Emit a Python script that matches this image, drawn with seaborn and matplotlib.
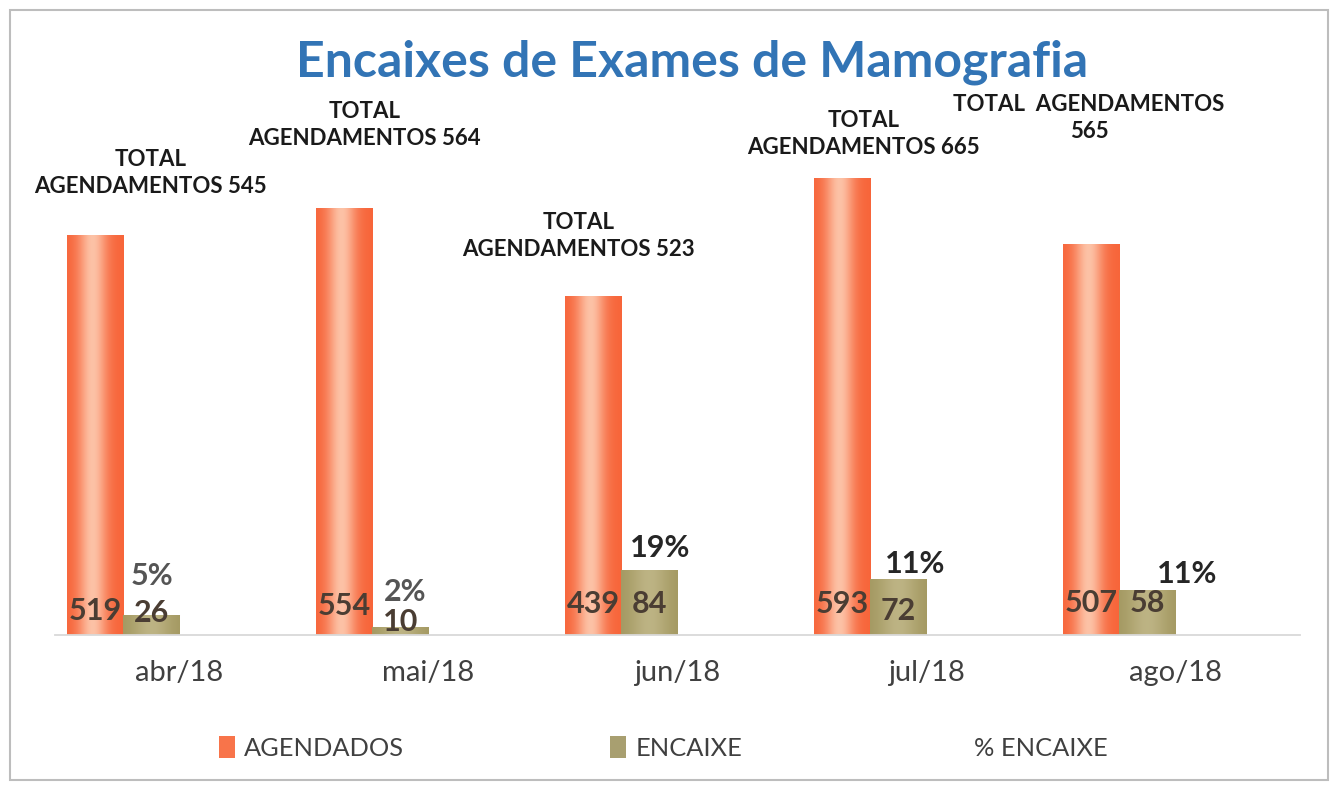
import numpy as np
import pandas as pd
import matplotlib
matplotlib.use("Agg")
import matplotlib.pyplot as plt
import seaborn as sns
from matplotlib.patches import Patch, Rectangle
from matplotlib.colors import LinearSegmentedColormap

# data
months = ["abr/18", "mai/18", "jun/18", "jul/18", "ago/18"]
agendados = [519, 554, 439, 593, 507]
encaixe = [26, 10, 84, 72, 58]
pct_encaixe = [5, 2, 19, 11, 11]
total_agendamentos = [545, 564, 523, 665, 565]

series = ["AGENDADOS", "ENCAIXE", "% ENCAIXE", "TOTAL"]
df = pd.DataFrame({
    "mes": months * 4,
    "serie": np.repeat(series, len(months)),
    "valor": agendados + encaixe + [p / 100 for p in pct_encaixe] + total_agendamentos,
})

sns.set_theme(style="white")
plt.rcParams["font.family"] = ["Lato", "DejaVu Sans"]

W, H = 1334, 785
fig = plt.figure(figsize=(W / 100, H / 100), dpi=100)
ax = fig.add_axes([55 / W, 150 / H, 1245 / W, 587 / H])

pal = {"AGENDADOS": "#F8703F", "ENCAIXE": "#A89E6C", "% ENCAIXE": "white", "TOTAL": "white"}
sns.barplot(data=df, x="mes", y="valor", hue="serie", hue_order=series, order=months,
            palette=pal, width=0.9, errorbar=None, saturation=1, legend=False, ax=ax)

# hide the helper series (they only reserve their slots, as in the original)
for c in ax.containers[2:]:
    for b in c:
        b.set_visible(False)

# cylinder-like shading
orange_cm = LinearSegmentedColormap.from_list("o", ["#F7653A", "#FDC2A6"])
olive_cm = LinearSegmentedColormap.from_list("g", ["#A2975F", "#CFC69C"])
t = np.linspace(0, 1, 64)
prof = np.exp(-((t - 0.45) / 0.25) ** 2)[None, :]
prof2 = 0.6 * np.exp(-((t - 0.5) / 0.35) ** 2)[None, :]
for cont, cm, pr in [(ax.containers[0], orange_cm, prof), (ax.containers[1], olive_cm, prof2)]:
    for b in cont:
        x0, w, h = b.get_x(), b.get_width(), b.get_height()
        im = ax.imshow(pr, cmap=cm, vmin=0, vmax=1, aspect="auto",
                       extent=[x0, x0 + w, 0, h], zorder=2.5, interpolation="bicubic")
        im.set_clip_path(b)

# value labels at the base of the bars
ag_label_y = [19, 26, 28, 28, 30]
enc_label_y = [17, 5, 28, 19, 30]
for cont, vals, ys in [(ax.containers[0], agendados, ag_label_y),
                       (ax.containers[1], encaixe, enc_label_y)]:
    for b, v, y in zip(cont, vals, ys):
        ax.text(b.get_x() + b.get_width() / 2, y, str(v), ha="center", va="baseline",
                fontsize=22, fontweight="bold", color="#4A3D33", zorder=5)

# percentage labels above the ENCAIXE bars
pct_dx = [0.0, 0.018, 0.042, 0.066, 0.159]
pct_dy = [39, 34, 17, 8, 9]
pct_col = ["#555555", "#555555", "#262626", "#262626", "#262626"]
for i, b in enumerate(ax.containers[1]):
    ax.text(b.get_x() + b.get_width() / 2 + pct_dx[i], encaixe[i] + pct_dy[i],
            f"{pct_encaixe[i]}%", ha="center", va="baseline",
            fontsize=22, fontweight="bold", color=pct_col[i], zorder=5)

# total labels above the AGENDADOS bars
tot_dx = [0.22, 0.08, -0.06, 0.085, -0.01]
tot_dy = [49, 76, 47, 26, 132]
for i, b in enumerate(ax.containers[0]):
    if i == len(months) - 1:
        txt = f"TOTAL  AGENDAMENTOS\n{total_agendamentos[i]}"
    else:
        txt = f"TOTAL\nAGENDAMENTOS {total_agendamentos[i]}"
    ax.text(b.get_x() + b.get_width() / 2 + tot_dx[i], agendados[i] + tot_dy[i], txt,
            ha="center", va="bottom", multialignment="center", linespacing=1.35,
            fontsize=16, fontweight="bold", color="#1a1a1a", zorder=5)

ax.set_xlim(-0.5, 4.5)
ax.set_ylim(0, 761)
ax.set_xlabel("")
ax.set_ylabel("")
ax.set_yticks([])
ax.tick_params(axis="x", length=0, pad=18, labelsize=21, labelcolor="#404040")
for s in ["top", "left", "right"]:
    ax.spines[s].set_visible(False)
ax.spines["bottom"].set_color("#D9D9D9")
ax.spines["bottom"].set_linewidth(1.3)
ax.set_facecolor("none")

fig.text(692 / W, 1 - 62 / H, "Encaixes de Exames de Mamografia", ha="center", va="center",
         fontsize=36, fontweight="bold", color="#3274B5")

handles = [Patch(facecolor="#F8744A", edgecolor="none"),
           Patch(facecolor="#A89F70", edgecolor="none"),
           Patch(facecolor="none", edgecolor="none")]
fig.legend(handles, ["AGENDADOS", "ENCAIXE", "% ENCAIXE"], loc="center",
           bbox_to_anchor=(0.497, 37 / H), ncol=3, frameon=False, fontsize=18.3,
           handlelength=0.65, handleheight=0.95, handletextpad=0.35, columnspacing=8.1,
           labelcolor="#404040")

fig.add_artist(Rectangle((10 / W, 5 / H), 1318 / W, 770 / H, transform=fig.transFigure,
                         fill=False, edgecolor="#BDBDBD", lw=1.5))

fig.savefig("out.png", dpi=100)
